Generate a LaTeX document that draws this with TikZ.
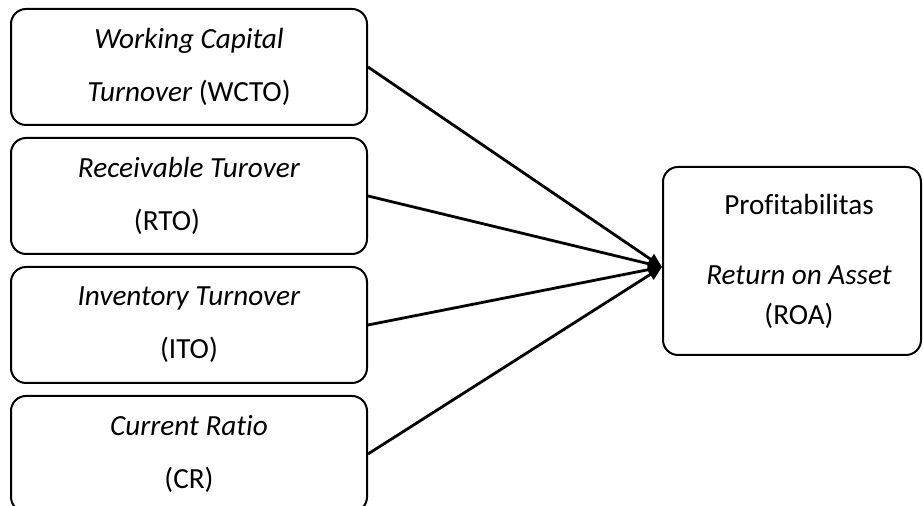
\documentclass[tikz,border=0pt]{standalone}
\usepackage{fontspec}
\setmainfont[Ligatures=NoCommon]{Carlito}
\usetikzlibrary{arrows.meta, positioning, calc}
\tikzset{
  factor/.style={
    rectangle,
    rounded corners=7.5pt,
    minimum width=178pt,
    minimum height=58pt,
    text centered,
    align=center,
    draw=black,
    line width=1pt,
    font=\fontsize{14.6}{26.5}\selectfont
  },
  arrow/.style={
    line width=1.4pt,
    ->,
    >={Triangle[length=7pt,width=6pt]}
  }
}

\begin{document}
\begin{tikzpicture}[x=0.5pt, y=-0.5pt, node distance=64.5pt]
\useasboundingbox (0,0) rectangle (923,506);

% Nodes
\node (wcto) [factor] at (189,67) {\textit{Working Capital}\\\textit{Turnover} (WCTO)};
\node (rto) [factor, below of=wcto] {\textit{Receivable Turover}\\(RTO)\hspace*{22pt}};
\node (ito) [factor, below of=rto] {\textit{Inventory Turnover}\\(ITO)};
\node (cr) [factor, below of=ito] {\textit{Current Ratio}\\(CR)};
\node (roa) [factor, minimum width=129pt, minimum height=94pt, font=\fontsize{14.6}{20}\selectfont] at (792,261)
  {\hspace*{7pt}Profitabilitas\\[15pt]\hspace*{7pt}\textit{Return on Asset}\\\hspace*{7pt}(ROA)};
\coordinate (tip) at ($(roa.west)+(0,6)$);

% Arrows
\draw [arrow] (wcto.east) -- (tip);
\draw [arrow] (rto.east) -- (tip);
\draw [arrow] (ito.east) -- (tip);
\draw [arrow] (cr.east) -- (tip);
\end{tikzpicture}
\end{document}
